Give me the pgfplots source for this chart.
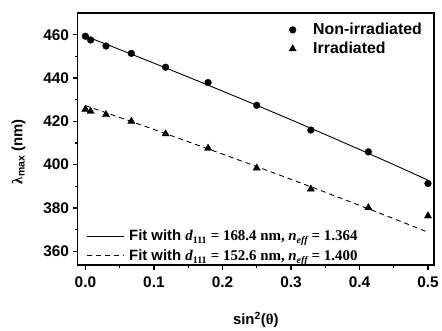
\documentclass[border=0pt]{standalone}
\usepackage{pgfplots}
\pgfplotsset{compat=1.18}
\usepackage{fontspec}
\setmainfont{Liberation Sans}
\newfontfamily\serif{Liberation Serif}
\newcommand{\sub}[1]{{\serif\fontsize{10}{10}\selectfont\raisebox{-3pt}{#1}}}
\begin{document}
\begin{tikzpicture}
\pgfplotsset{
  common/.style={
    width=359pt, height=254pt, scale only axis,
    xmin=-0.0116, xmax=0.509, ymin=353.5, ymax=470.1,
  },
}
% fits (hidden axis, own legend)
\begin{axis}[common, hide axis,
  legend style={at={(0.022,0.0)}, anchor=south west, draw=none, fill=none,
    font=\fontsize{15}{16}\selectfont\bfseries, row sep=3.5pt, inner sep=1pt,
    /tikz/every odd column/.append style={column sep=3pt}},
  legend cell align=left,
  legend image code/.code={\draw[#1] (0pt,0pt) -- (37pt,0pt);},
]
\addplot[black, line width=0.9pt] coordinates {
(0,459.40) (0.05,453.18) (0.1,446.88) (0.15,440.49) (0.2,434.00) (0.25,427.42)
(0.3,420.73) (0.35,413.93) (0.4,407.03) (0.45,400.00) (0.5,392.84)};
\addlegendentry{Fit with {\serif\itshape d}\sub{111} {\serif= 168.4 nm, \itshape n}\sub{\itshape eff} {\serif= 1.364}}
\addplot[black, line width=0.9pt, dash pattern=on 5pt off 4pt] coordinates {
(0,427.28) (0.05,421.80) (0.1,416.24) (0.15,410.60) (0.2,404.89) (0.25,399.10)
(0.3,393.22) (0.35,387.26) (0.4,381.19) (0.45,375.04) (0.5,368.77)};
\addlegendentry{Fit with {\serif\itshape d}\sub{111} {\serif= 152.6 nm, \itshape n}\sub{\itshape eff} {\serif= 1.400}}
\end{axis}
% data axis
\begin{axis}[common, name=main,
  axis line style={line width=1.6pt},
  tick style={line width=1.2pt, black},
  tick align=outside, xtick pos=bottom, ytick pos=left,
  major tick length=5pt, minor tick length=3pt,
  xtick={0,0.1,0.2,0.3,0.4,0.5}, minor x tick num=1,
  ytick={360,380,400,420,440,460}, minor y tick num=1,
  xticklabels={0.0,0.1,0.2,0.3,0.4,0.5},
  /pgf/number format/assume math mode=true,
  ticklabel style={font=\fontsize{15.5}{16}\selectfont\bfseries},
  xticklabel style={yshift=-3pt},
  xlabel={sin\textsuperscript{2}({\serif θ})},
  ylabel={{\serif λ}\textsubscript{max} (nm)},
  label style={font=\fontsize{15}{16}\selectfont\bfseries},
  xlabel style={at={(axis description cs:0.5,-0.215)}, anchor=center},
  ylabel style={at={(axis description cs:-0.165,0.45)}, anchor=center},
  legend style={at={(0.98,0.975)}, anchor=north east, draw=none, fill=none,
    font=\fontsize{16}{17}\selectfont\bfseries, row sep=2pt,
    /tikz/every odd column/.append style={column sep=15pt}},
  legend cell align=left,
]
\addplot[only marks, mark=*, mark size=3.4pt, black] coordinates {
(0,459.3) (0.0076,457.6) (0.030,454.8) (0.067,451.4) (0.117,445.0)
(0.179,437.9) (0.25,427.4) (0.329,416.0) (0.413,405.9) (0.5,391.3)};
\addlegendentry{Non-irradiated}
\addplot[only marks, mark=triangle*, mark size=4.2pt, black] coordinates {
(0,425.6) (0.0076,424.6) (0.030,423.1) (0.067,420.0) (0.117,414.2)
(0.179,407.6) (0.25,398.4) (0.329,388.7) (0.413,380.1) (0.5,376.3)};
\addlegendentry{Irradiated}
\end{axis}
\path ([shift={(-78pt,-66pt)}]main.south west) rectangle ([shift={(5pt,13pt)}]main.north east);
\end{tikzpicture}
\end{document}
